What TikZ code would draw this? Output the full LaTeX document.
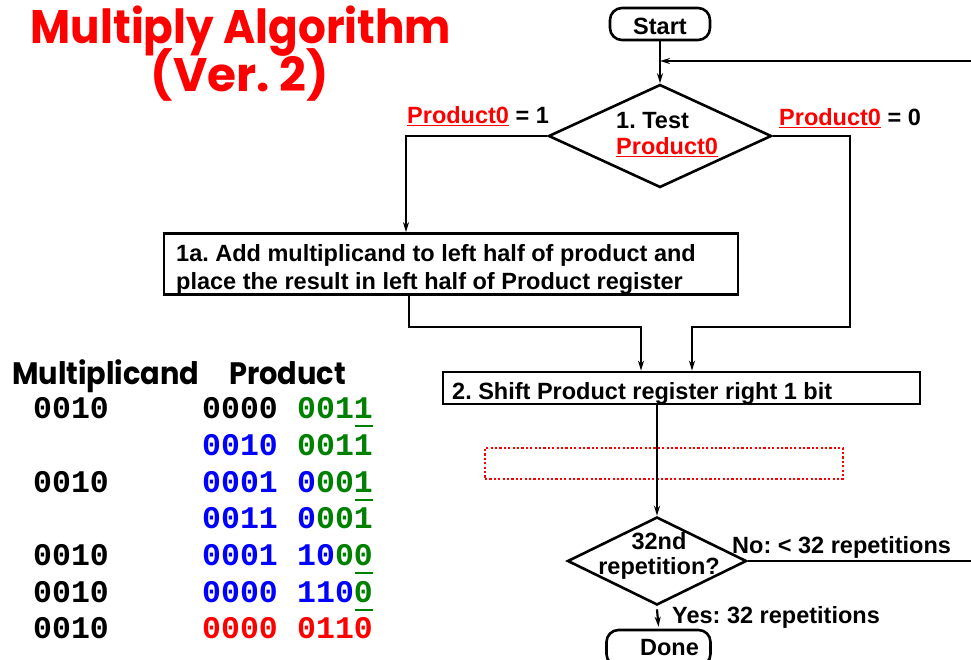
\documentclass[tikz,border=0pt]{standalone}
\usepackage{fontspec}
\setmainfont{Liberation Sans}
\newfontfamily\titlefont{Poppins}
\newfontfamily\codefont{Liberation Mono}
\usetikzlibrary{shapes.geometric,arrows.meta,calc}
\definecolor{codegreen}{RGB}{0,128,0}
\definecolor{codeblue}{RGB}{0,0,255}
\definecolor{codered}{RGB}{255,0,0}
\newcommand\pz{{\color{codered}\underline{Product0}}}
\newcommand\G[1]{{\color{codegreen}#1}}
\newcommand\B[1]{{\color{codeblue}#1}}
\newcommand\R[1]{{\color{codered}#1}}
\frenchspacing
\begin{document}
\begin{tikzpicture}[x=1pt,y=-1pt,
  flow/.style={font=\fontsize{23.5}{28}\selectfont\bfseries},
  tight/.style={font=\fontsize{23.5}{25.5}\selectfont\bfseries},
  box/.style={draw, line width=2.8pt, inner sep=0pt},
  term/.style={draw, line width=2.6pt, rounded corners=12pt, flow, inner sep=0pt},
  decision/.style={draw, diamond, line width=2.6pt, inner sep=0pt},
  lbl/.style={flow, anchor=west, inner sep=0pt},
  conn/.style={line width=2.2pt},
  arr/.style={conn, -{Stealth[length=10pt,width=6pt]}},
  digits/.style={font=\codefont\bfseries\fontsize{31.5}{32}\selectfont, inner sep=0pt, anchor=base west},
  hdr/.style={font=\titlefont\bfseries\fontsize{31}{32}\selectfont, inner sep=0pt, anchor=base west, xscale=0.93},
  ttl/.style={font=\titlefont\bfseries\fontsize{47}{50}\selectfont, text=codered, inner sep=0pt},
  ul/.style={codegreen, line width=2pt}]
\useasboundingbox (0,0) rectangle (971,659);
\clip (0,0) rectangle (971,659);

% title
\node[ttl, xscale=0.93] (t1) at (241,31) {Multiply Algorithm};
\node[ttl] (t2) at (240,75) {(Ver. 2)};

% worked example
\node[hdr] (hm) at (12,384) {Multiplicand};
\node[hdr] (hp) at (229,384) {Product};

\node[digits] (r1a) at (33,418) {0010};
\node[digits] (r1b) at (202,418) {0000};
\node[digits] (r1c) at (297,418) {\G{0011}};
\node[digits] (r2b) at (202,455) {\B{0010}};
\node[digits] (r2c) at (297,455) {\G{0011}};
\node[digits] (r3a) at (33,492) {0010};
\node[digits] (r3b) at (202,492) {\B{0001}};
\node[digits] (r3c) at (297,492) {\B{0}\G{001}};
\node[digits] (r4b) at (202,528) {\B{0011}};
\node[digits] (r4c) at (297,528) {\B{0}\G{001}};
\node[digits] (r5a) at (33,565) {0010};
\node[digits] (r5b) at (202,565) {\B{0001}};
\node[digits] (r5c) at (297,565) {\B{10}\G{00}};
\node[digits] (r6a) at (33,602) {0010};
\node[digits] (r6b) at (202,602) {\B{0000}};
\node[digits] (r6c) at (297,602) {\B{110}\G{0}};
\node[digits] (r7a) at (33,638) {0010};
\node[digits] (r7b) at (202,638) {\R{0000}};
\node[digits] (r7c) at (297,638) {\R{0110}};

% marks under the bit being tested
\foreach \r in {r1c,r3c,r5c,r6c}
  \draw[ul] ($(\r.base east)+(-18,8)$) -- ($(\r.base east)+(0,8)$);

% flow chart
\node[term, minimum width=100pt, minimum height=32pt, text height=20pt, text depth=0pt] (start) at (660,24) {Start};
\node[decision, minimum width=223pt, minimum height=103pt] (d1) at (660,136) {};
\node[font=\fontsize{23.5}{26}\selectfont\bfseries, align=left, anchor=west, inner sep=0pt] (d1t) at (616,134.5) {1. Test\\\pz};
\node[box, minimum width=574pt, minimum height=61pt] (b1a) at (451,264) {};
\node[flow, align=left, anchor=west, inner sep=0pt] (b1at) at (176,269.5)
  {1a. Add multiplicand to left half of product and\\place the result in left half of Product register};
\node[box, minimum width=477pt, minimum height=32pt] (b2) at (681.5,388) {};
\node[flow, anchor=base west, inner sep=0pt] (b2t) at (452,399) {2. Shift Product register right 1 bit};
\node[draw=codered, dash pattern=on 2.2pt off 2.2pt, line width=2.2pt, minimum width=358pt, minimum height=31pt, inner sep=0pt] (slot) at (664,463.5) {};
\node[decision, minimum width=179pt, minimum height=88pt] (d2) at (657,561) {};
\node[tight, align=center, inner sep=0pt] (d2t) at (659,556) {32nd\\repetition?};
\node[term, minimum width=104pt, minimum height=36pt] (done) at (658.5,648) {\hspace*{22pt}Done};

% branch labels
\node[lbl] (l1) at (407,116) {\pz{} = 1};
\node[lbl] (l0) at (779,118) {\pz{} = 0};
\node[lbl] (lno) at (732,547) {No: < 32 repetitions};
\node[lbl] (lyes) at (672,617) {Yes: 32 repetitions};

% connectors
\coordinate (loopin) at (971,61);
\coordinate (lc) at (406,136);
\coordinate (rc) at (850,327);
\coordinate (j1) at (641,327);
\coordinate (j2) at (692,327);
\draw[arr] (start) -- (d1);
\draw[arr] (loopin) -- (loopin -| start.south);
\draw[arr] (d1.west) -- (lc) -- (lc |- b1a.north);
\draw[arr] (d1.east) -| (rc) -- (j2) -- (j2 |- b2.north);
\draw[arr] ([xshift=-42pt]b1a.south) |- (j1) -- (j1 |- b2.north);
\draw[arr] (b2.south -| d2.north) -- (d2.north);
\draw[conn] (d2.east) -- (d2.east -| loopin);
\draw[arr] ([yshift=-3pt]d2.south) -- ([yshift=2pt]done.north);
\end{tikzpicture}
\end{document}
